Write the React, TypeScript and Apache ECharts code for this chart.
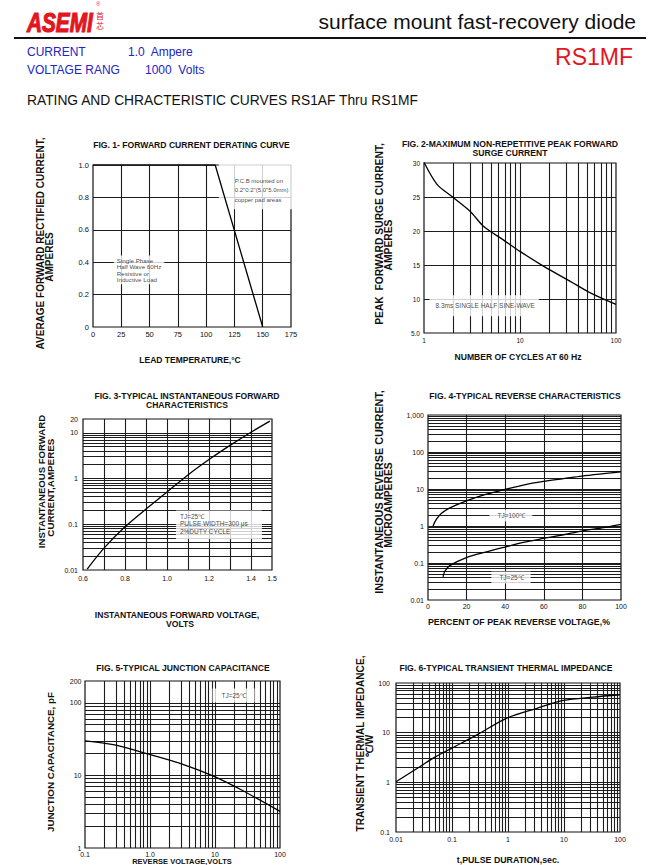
import React, { useEffect, useRef } from 'react';
import * as echarts from 'echarts';

// ---------------- data ----------------
// Fig.1 forward current derating curve
const fig1LeadTemp = [0, 108, 150];
const fig1AvgCurrent = [1.0, 1.0, 0];
// Fig.2 maximum non-repetitive peak forward surge current
const fig2Cycles = [1, 1.36, 1.94, 3.02, 4.16, 6.7, 10, 17.7, 33.4, 54, 100];
const fig2Surge = [30.1, 26.9, 25.1, 22.9, 20.7, 18.7, 17, 14.8, 12.6, 10.9, 9.2];
// Fig.3 typical instantaneous forward characteristics
const fig3Volts = [0.62, 0.7, 0.8, 0.9, 1.0, 1.1, 1.2, 1.3, 1.4, 1.49];
const fig3Amps = [0.0105, 0.03, 0.088, 0.215, 0.51, 1.2, 2.6, 5.3, 10.3, 18];
// Fig.4 typical reverse characteristics
const fig4Pct100 = [2.6, 4.3, 7.0, 11.3, 19.9, 30.3, 39.9, 49.4, 59.8, 70.2, 79.7, 91, 100];
const fig4Ir100 = [1.0, 1.5, 2.2, 3.1, 4.8, 7.3, 9.7, 12.8, 16, 19, 22.4, 26, 29];
const fig4Pct25 = [7.8, 8.7, 11.3, 19.9, 30.3, 39.9, 49.4, 59.8, 70.2, 79.7, 91, 100];
const fig4Ir25 = [0.042, 0.06, 0.085, 0.14, 0.2, 0.27, 0.36, 0.46, 0.58, 0.73, 0.9, 1.1];
// Fig.5 typical junction capacitance
const fig5Volts = [0.1, 0.273, 0.89, 2.9, 8.9, 27.4, 100];
const fig5Cap = [30, 26.5, 20, 14.7, 10, 6.1, 3.2];
// Fig.6 typical transient thermal impedance
const fig6Time = [0.01, 0.0237, 0.047, 0.1, 0.278, 0.95, 3.3, 9.8, 33, 100];
const fig6Zth = [1.03, 1.9, 3.1, 4.9, 9.0, 19.6, 31, 44.6, 52, 58];

// tick labels
const fig1YLabels = ['0', '0.2', '0.4', '0.6', '0.8', '1.0'];
const fig2YLabels = ['5.0', '10', '15', '20', '25', '30'];
const fig3XLabels = ['0.6', '0.8', '1.0', '1.2', '1.4', '1.5'];
const fig4YLabels = ['0.01', '0.1', '1', '10', '100', '1,000'];
const fig5XLabels = ['0.1', '1.0', '10', '100'];

// ---------------- helpers ----------------
const FONT = "'Liberation Sans', Arial, Helvetica, sans-serif";
const GRID_COLOR = '#1c1c1c';

const zip = (xs: number[], ys: number[]) => xs.map((x, i) => [x, ys[i]]);

function logGridValues(min: number, max: number): number[] {
  const out: number[] = [];
  const e0 = Math.floor(Math.log10(min));
  const e1 = Math.ceil(Math.log10(max));
  for (let e = e0; e <= e1; e++) {
    for (let k = 1; k <= 9; k++) {
      const v = +(k * Math.pow(10, e)).toPrecision(6);
      if (v > min * 1.0001 && v < max * 0.9999) out.push(v);
    }
  }
  return out;
}
function linGridValues(min: number, max: number, step: number): number[] {
  const out: number[] = [];
  for (let v = min + step; v < max - step / 2; v += step) out.push(+v.toFixed(6));
  return out;
}

function gridLines(xv: number[], yv: number[]) {
  return {
    silent: true,
    z: 1,
    symbol: ['none', 'none'],
    animation: false,
    label: { show: false },
    emphasis: { disabled: true },
    lineStyle: { color: GRID_COLOR, width: 1.1, type: 'solid' },
    data: [...xv.map((v) => ({ xAxis: v })), ...yv.map((v) => ({ yAxis: v }))],
  };
}

function curve(idx: number, xs: number[], ys: number[], smooth: number | boolean, lines?: any) {
  const s: any = {
    type: 'line',
    xAxisIndex: idx,
    yAxisIndex: idx,
    data: zip(xs, ys),
    symbol: 'none',
    showSymbol: false,
    smooth,
    z: 3,
    silent: true,
    lineStyle: { color: '#000', width: 1.3 },
  };
  if (lines) s.markLine = lines;
  return s;
}

function labelBox(idx: number, x: number, y: number, text: string, o: any) {
  return {
    type: 'scatter',
    xAxisIndex: idx,
    yAxisIndex: idx,
    data: [[x, y]],
    symbol: 'rect',
    symbolSize: 1,
    itemStyle: { color: 'transparent' },
    clip: false,
    silent: true,
    z: 2,
    label: {
      show: true,
      position: [0, 0],
      align: 'left',
      verticalAlign: 'top',
      formatter: text,
      backgroundColor: '#fff',
      color: '#111',
      fontFamily: FONT,
      fontSize: o.size,
      lineHeight: o.lh,
      padding: o.pad,
      ...(o.width ? { width: o.width } : {}),
    },
  };
}

const fmtNum = (v: number) => String(+(+v).toPrecision(4));

function axLabel(formatter: any, margin: number, size = 7) {
  return { show: true, formatter, margin, fontSize: size, color: '#111', fontFamily: FONT };
}

const common = {
  axisLine: { show: false },
  axisTick: { show: false },
  splitLine: { show: false },
};

function T(text: string, x: number, y: number, font: string, opts: any = {}) {
  return {
    type: 'text',
    x,
    y,
    rotation: opts.rot || 0,
    scaleX: opts.sx || 1,
    silent: true,
    z: 10,
    style: {
      text,
      font,
      fill: opts.fill || '#111',
      align: opts.align || 'center',
      verticalAlign: opts.va || 'middle',
      ...(opts.stroke ? { stroke: opts.stroke, lineWidth: opts.lw || 1 } : {}),
    },
  };
}

const B = (s: number) => `bold ${s}px ${FONT}`;
const N = (s: number) => `${s}px ${FONT}`;
const ROT = Math.PI / 2;
const BLUE = '#2323c8';
const RED = '#e3161d';

const gridBox = (left: number, top: number, width: number, height: number) => ({
  left, top, width, height, show: true, borderColor: '#111', borderWidth: 1.2, backgroundColor: 'transparent', containLabel: false,
});

const option: any = {
  animation: false,
  backgroundColor: '#fff',
  grid: [
    gridBox(93, 165, 198, 162),
    gridBox(424, 163, 192, 170),
    gridBox(83, 419, 189, 151),
    gridBox(428, 415, 193, 185),
    gridBox(85, 681, 195, 167),
    gridBox(396, 683, 224, 149),
  ],
  xAxis: [
    { gridIndex: 0, type: 'value', min: 0, max: 175, interval: 25, ...common, axisLabel: axLabel(undefined, 3, 7.5) },
    { gridIndex: 1, type: 'log', logBase: 10, min: 1, max: 100, ...common, axisLabel: axLabel(fmtNum, 4, 6.5) },
    {
      gridIndex: 2, type: 'value', min: 0.6, max: 1.5, interval: 0.1, ...common,
      axisLabel: axLabel((v: number) => { const s = (+v).toFixed(1); return fig3XLabels.includes(s) ? s : ''; }, 5, 7),
    },
    { gridIndex: 3, type: 'value', min: 0, max: 100, interval: 20, ...common, axisLabel: axLabel(undefined, 2.5, 7) },
    {
      gridIndex: 4, type: 'log', logBase: 10, min: 0.1, max: 100, ...common,
      axisLabel: axLabel((v: number) => { const s = fmtNum(v); return s === '1' ? fig5XLabels[1] : s; }, 2.5, 7),
    },
    { gridIndex: 5, type: 'log', logBase: 10, min: 0.01, max: 100, ...common, axisLabel: axLabel(fmtNum, 4, 7) },
  ],
  yAxis: [
    {
      gridIndex: 0, type: 'value', min: 0, max: 1, interval: 0.2, ...common,
      axisLabel: axLabel((v: number) => fig1YLabels[Math.round(v * 5)], 4, 7.5),
    },
    {
      gridIndex: 1, type: 'value', min: 5, max: 30, interval: 5, ...common,
      axisLabel: axLabel((v: number) => fig2YLabels[Math.round(v / 5) - 1], 4, 6.5),
    },
    { gridIndex: 2, type: 'log', logBase: 10, min: 0.01, max: 20, ...common, axisLabel: axLabel(fmtNum, 5, 7) },
    {
      gridIndex: 3, type: 'log', logBase: 10, min: 0.01, max: 1000, ...common,
      axisLabel: axLabel((v: number) => fig4YLabels[Math.round(Math.log10(v)) + 2], 4, 7),
    },
    { gridIndex: 4, type: 'log', logBase: 10, min: 1, max: 200, ...common, axisLabel: axLabel(fmtNum, 3.5, 7) },
    { gridIndex: 5, type: 'log', logBase: 10, min: 0.1, max: 100, ...common, axisLabel: axLabel(fmtNum, 6, 7) },
  ],
  series: [
    curve(0, fig1LeadTemp, fig1AvgCurrent, false, gridLines([25, 50, 75, 100, 125, 150], [0.2, 0.4, 0.6, 0.8])),
    curve(1, fig2Cycles, fig2Surge, 0.3, gridLines(logGridValues(1, 100), [10, 15, 20, 25])),
    curve(2, fig3Volts, fig3Amps, 0.3, gridLines(linGridValues(0.6, 1.5, 0.1), logGridValues(0.01, 20))),
    curve(3, fig4Pct100, fig4Ir100, 0.3, gridLines([20, 40, 60, 80], logGridValues(0.01, 1000))),
    curve(3, fig4Pct25, fig4Ir25, 0.3),
    curve(4, fig5Volts, fig5Cap, 0.3, gridLines(logGridValues(0.1, 100), logGridValues(1, 200))),
    curve(5, fig6Time, fig6Zth, 0.3, gridLines(logGridValues(0.01, 100), logGridValues(0.1, 100))),

    labelBox(0, 18.8, 0.438, 'Single Phase\nHalf Wave 60Hz\nResistive or\nInductive Load', { size: 6.2, lh: 6.2, pad: [2, 3, 2, 3] }),
    labelBox(0, 111.6, 1.012, 'P.C.B mounted on\n0.2"0.2"(5.0"5.0mm)\ncopper pad areas', { size: 6, lh: 9.2, pad: [14, 2, 5, 16], width: 56 }),
    labelBox(1, 1.155, 10.49, '8.3ms SINGLE HALF SINE-WAVE', { size: 6.5, lh: 9, pad: [6, 4, 6, 6] }),
    labelBox(2, 1.045, 0.1955, 'TJ=25℃\nPULSE WIDTH=300 μs\n2%DUTY CYCLE', { size: 6.5, lh: 7.5, pad: [2, 4, 4, 4], width: 78 }),
    labelBox(3, 32.1, 2.71, 'TJ=100℃', { size: 6.5, lh: 8, pad: [2, 7, 2, 8] }),
    labelBox(3, 33.1, 0.0571, 'TJ=25℃', { size: 6.5, lh: 8, pad: [2, 7, 2, 8] }),
    labelBox(4, 9.3, 155, 'TJ=25℃', { size: 6.5, lh: 8, pad: [3, 9, 3, 9] }),
  ],
  graphic: [
    // header
    T('ASEMI', 27, 9, `italic bold 27px ${FONT}`, { fill: RED, align: 'left', va: 'top', sx: 0.77, stroke: RED, lw: 1.2 }),
    T('®', 96, 4, N(6), { fill: RED, align: 'left' }),
    T('首', 96, 15, `8px 'Noto Sans CJK SC'`, { fill: RED, align: 'left' }),
    T('芯', 96, 25, `8px 'Noto Sans CJK SC'`, { fill: RED, align: 'left' }),
    T('surface mount fast-recovery diode', 636, 21, N(21), { align: 'right' }),
    { type: 'line', silent: true, shape: { x1: 14, y1: 38, x2: 646, y2: 38 }, style: { stroke: '#111', lineWidth: 2.2 } },
    T('CURRENT', 27, 52, N(12), { fill: BLUE, align: 'left' }),
    T('1.0  Ampere', 128, 52, N(12), { fill: BLUE, align: 'left' }),
    T('VOLTAGE RANG', 27, 70, N(12), { fill: BLUE, align: 'left' }),
    T('1000  Volts', 145, 70, N(12), { fill: BLUE, align: 'left' }),
    T('RS1MF', 633, 57, N(23), { fill: RED, align: 'right' }),
    T('RATING AND CHRACTERISTIC CURVES RS1AF Thru RS1MF', 27, 100, N(13.8), { align: 'left' }),

    // fig titles
    T('FIG. 1- FORWARD CURRENT DERATING CURVE', 191.5, 145, B(8.6)),
    T('FIG. 2-MAXIMUM NON-REPETITIVE PEAK FORWARD', 510, 144, B(8.6)),
    T('SURGE CURRENT', 510, 153, B(8.6)),
    T('FIG. 3-TYPICAL INSTANTANEOUS FORWARD', 187, 396, B(8.6)),
    T('CHARACTERISTICS', 187, 404.5, B(8.6)),
    T('FIG. 4-TYPICAL REVERSE CHARACTERISTICS', 525, 396, B(8.6)),
    T('FIG. 5-TYPICAL JUNCTION CAPACITANCE', 183, 668, B(8.6)),
    T('FIG. 6-TYPICAL TRANSIENT THERMAL IMPEDANCE', 506, 668, B(8.6)),

    // axis names
    T('AVERAGE FORWARD RECTIFIED CURRENT,', 40, 243.5, B(10), { rot: ROT }),
    T('AMPERES', 49.5, 257, B(10), { rot: ROT }),
    T('LEAD TEMPERATURE,°C', 190, 360, B(8.5)),

    T('PEAK  FORWARD SURGE CURRENT,', 379, 234, B(10.3), { rot: ROT }),
    T('AMPERES', 388, 245, B(10.3), { rot: ROT }),
    T('NUMBER OF CYCLES AT 60 Hz', 518, 357, B(8.6)),

    T('INSTANTANEOUS FORWARD', 41.7, 481.5, B(9.6), { rot: ROT }),
    T('CURRENT,AMPERES', 50.7, 487.7, B(9.8), { rot: ROT }),
    T('INSTANTANEOUS FORWARD VOLTAGE,', 177, 615, B(8.6)),
    T('VOLTS', 180, 623.7, B(8.6)),

    T('INSTANTANEOUS REVERSE CURRENT,', 379, 492, B(10.8), { rot: ROT }),
    T('MICROAMPERES', 388, 505, B(10.3), { rot: ROT }),
    T('PERCENT OF PEAK REVERSE VOLTAGE,%', 519, 622, B(8.8)),

    T('JUNCTION CAPACITANCE, pF', 50, 762, B(9.8), { rot: ROT }),
    T('REVERSE VOLTAGE,VOLTS', 182, 861.2, B(7.5)),

    T('TRANSIENT THERMAL IMPEDANCE,', 360.7, 743.5, B(10.1), { rot: ROT }),
    T('℃/W', 369, 746, B(10), { rot: ROT }),
    T('t,PULSE DURATION,sec.', 508, 860, B(8.8)),
  ],
};

export default function App() {
  const ref = useRef<HTMLDivElement>(null);
  useEffect(() => {
    if (!ref.current) return;
    const chart = echarts.init(ref.current, null, { renderer: 'svg', width: 660, height: 865 });
    chart.setOption(option);
    return () => chart.dispose();
  }, []);
  return (
    <div
      ref={ref}
      style={{ position: 'absolute', left: 0, top: 0, width: 660, height: 865, background: '#fff' }}
    />
  );
}
